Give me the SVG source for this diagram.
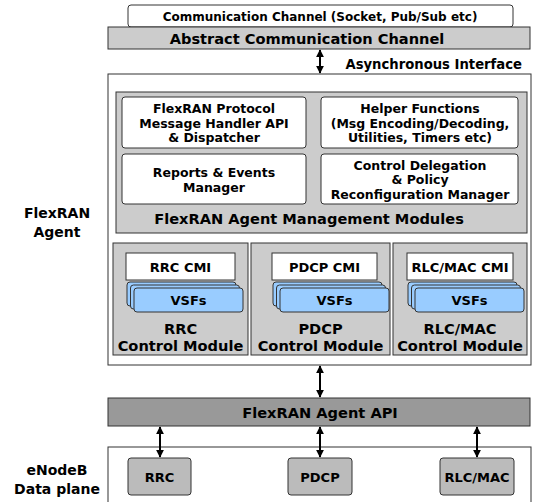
<svg xmlns="http://www.w3.org/2000/svg" width="537" height="502" viewBox="0 0 537 502">
<style>
text{font-family:"DejaVu Sans","Liberation Sans",sans-serif;font-weight:bold;fill:#000;text-anchor:middle}
.box{fill:#fff;stroke:#333;stroke-width:1}
.g1{fill:#cccccc;stroke:#333;stroke-width:1}
.g2{fill:#999999;stroke:#333;stroke-width:1}
.g3{fill:#bbbbbb;stroke:#333;stroke-width:1}
.vsf{fill:#99ccff;stroke:#333;stroke-width:1}
.tc{font-size:12px}
.tm{font-size:12.5px}
.ts{font-size:13px}
.tl{font-size:14.6px}
.t14{font-size:14px}
.conn{stroke:#000;stroke-width:2;fill:none}
</style>
<defs>
<marker id="ah" viewBox="0 0 10 10" refX="9" refY="5" markerWidth="4" markerHeight="4" orient="auto-start-reverse">
<path d="M0,0 L10,5 L0,10 z" fill="#000"/>
</marker>
</defs>

<g id="comm-channel">
<rect class="box" x="128" y="5" width="385" height="22" rx="3"/>
<text class="tc" x="320" y="20.5">Communication Channel (Socket, Pub/Sub etc)</text>
</g>
<g id="abstract-channel">
<rect class="g1" x="108" y="27" width="422" height="22"/>
<text class="tl" x="307" y="43.5">Abstract Communication Channel</text>
</g>
<g id="async-label">
<text x="522" y="68.5" style="text-anchor:end;font-size:13.2px">Asynchronous Interface</text>
</g>

<g id="agent">
<rect class="box" x="108" y="74" width="423" height="291"/>
<text class="t14" x="57" y="218">FlexRAN</text>
<text class="t14" x="57" y="237">Agent</text>
</g>
<g id="mgmt-modules">
<rect class="g1" x="116" y="92" width="411" height="141"/>
<text class="tl" x="309" y="223.5">FlexRAN Agent Management Modules</text>
</g>
<g id="protocol-handler">
<rect class="box" x="122" y="97" width="184" height="51" rx="3"/>
<text class="tm" x="214" y="112.5">FlexRAN Protocol</text>
<text class="tm" x="214" y="127.5">Message Handler API</text>
<text class="tm" x="214" y="142">&amp; Dispatcher</text>
</g>
<g id="helper-functions">
<rect class="box" x="321" y="97" width="197" height="51" rx="3"/>
<text class="tm" x="420" y="112.5">Helper Functions</text>
<text class="tm" x="420" y="127.5">(Msg Encoding/Decoding,</text>
<text class="tm" x="420" y="142">Utilities, Timers etc)</text>
</g>
<g id="reports-events">
<rect class="box" x="122" y="154" width="184" height="50" rx="3"/>
<text class="tm" x="214" y="176.5">Reports &amp; Events</text>
<text class="tm" x="214" y="191.5">Manager</text>
</g>
<g id="control-delegation">
<rect class="box" x="321" y="154" width="197" height="50" rx="3"/>
<text class="tm" x="420" y="169.5">Control Delegation</text>
<text class="tm" x="420" y="184">&amp; Policy</text>
<text class="tm" x="420" y="198.5">Reconfiguration Manager</text>
</g>

<g id="rrc-control">
<rect class="g1" x="113" y="243" width="135" height="112"/>
<rect class="box" x="126" y="253" width="109" height="27"/>
<text class="ts" x="180.5" y="271.5">RRC CMI</text>
<rect class="vsf" x="127" y="282" width="109" height="24" rx="3"/>
<rect class="vsf" x="130.5" y="285" width="109" height="24" rx="3"/>
<rect class="vsf" x="134" y="288" width="109" height="24" rx="3"/>
<text class="ts" x="188.5" y="304.5">VSFs</text>
<text class="tl" x="180.5" y="334">RRC</text>
<text class="tl" x="180.5" y="350.5">Control Module</text>
</g>
<g id="pdcp-control">
<rect class="g1" x="251" y="243" width="139" height="112"/>
<rect class="box" x="272" y="253" width="105" height="27"/>
<text class="ts" x="324.5" y="271.5">PDCP CMI</text>
<rect class="vsf" x="273" y="282" width="109" height="24" rx="3"/>
<rect class="vsf" x="276.5" y="285" width="109" height="24" rx="3"/>
<rect class="vsf" x="280" y="288" width="109" height="24" rx="3"/>
<text class="ts" x="334.5" y="304.5">VSFs</text>
<text class="tl" x="320.5" y="334">PDCP</text>
<text class="tl" x="320.5" y="350.5">Control Module</text>
</g>
<g id="rlcmac-control">
<rect class="g1" x="393" y="243" width="134" height="112"/>
<rect class="box" x="407" y="253" width="106" height="27"/>
<text class="ts" x="460" y="271.5">RLC/MAC CMI</text>
<rect class="vsf" x="408" y="282" width="109" height="24" rx="3"/>
<rect class="vsf" x="411.5" y="285" width="109" height="24" rx="3"/>
<rect class="vsf" x="415" y="288" width="109" height="24" rx="3"/>
<text class="ts" x="469.5" y="304.5">VSFs</text>
<text class="tl" x="460" y="334">RLC/MAC</text>
<text class="tl" x="460" y="350.5">Control Module</text>
</g>

<g id="agent-api">
<rect class="g2" x="108" y="398" width="422" height="28"/>
<text class="tl" x="320" y="417.5">FlexRAN Agent API</text>
</g>

<g id="data-plane">
<rect class="box" x="108" y="447" width="423" height="70"/>
<text class="t14" x="57" y="475">eNodeB</text>
<text class="t14" x="57" y="494">Data plane</text>
</g>
<g id="dp-rrc">
<rect class="g3" x="128" y="458" width="63" height="37" rx="3"/>
<text class="ts" x="159.5" y="481.5">RRC</text>
</g>
<g id="dp-pdcp">
<rect class="g3" x="288" y="458" width="64" height="37" rx="3"/>
<text class="ts" x="320" y="481.5">PDCP</text>
</g>
<g id="dp-rlcmac">
<rect class="g3" x="440" y="458" width="74" height="37" rx="3"/>
<text class="ts" x="477" y="481.5">RLC/MAC</text>
</g>

<g id="connectors">
<line class="conn" x1="320" y1="50" x2="320" y2="73" marker-start="url(#ah)" marker-end="url(#ah)"/>
<line class="conn" x1="320" y1="366" x2="320" y2="397" marker-start="url(#ah)" marker-end="url(#ah)"/>
<line class="conn" x1="160" y1="427" x2="160" y2="457" marker-start="url(#ah)" marker-end="url(#ah)"/>
<line class="conn" x1="320" y1="427" x2="320" y2="457" marker-start="url(#ah)" marker-end="url(#ah)"/>
<line class="conn" x1="477" y1="427" x2="477" y2="457" marker-start="url(#ah)" marker-end="url(#ah)"/>
</g>
</svg>
